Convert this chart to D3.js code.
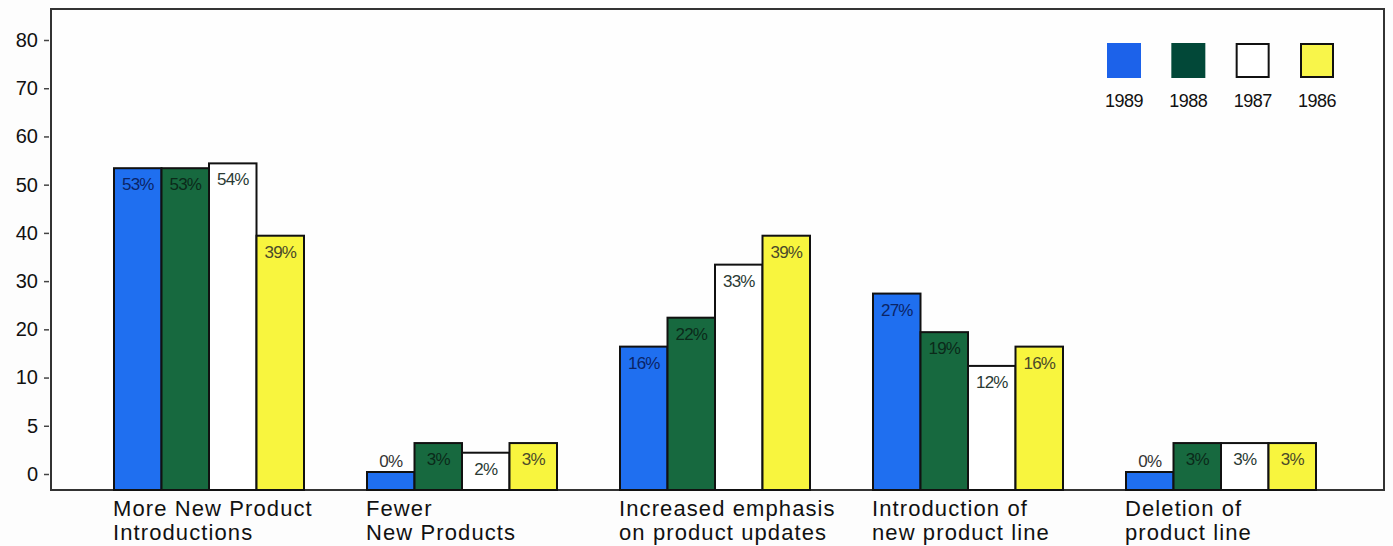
<!DOCTYPE html>
<html>
<head>
<meta charset="utf-8">
<script src="https://cdn.jsdelivr.net/npm/d3@7"></script>
<style>
  html, body { margin: 0; padding: 0; background: #fdfdfd; overflow: hidden; }
  svg { display: block; font-family: "Liberation Sans", Arial, Helvetica, sans-serif; }
</style>
</head>
<body>
<svg id="chart" width="1393" height="546"></svg>
<script>
// Product strategy changes, share of respondents by survey year
const categories = [
  ["More New Product", "Introductions"],
  ["Fewer", "New Products"],
  ["Increased emphasis", "on product updates"],
  ["Introduction of", "new product line"],
  ["Deletion of", "product line"]
];
const years = ["1989", "1988", "1987", "1986"];
const values1989 = [53, 0, 16, 27, 0];
const values1988 = [53, 3, 22, 19, 3];
const values1987 = [54, 2, 33, 12, 3];
const values1986 = [39, 3, 39, 16, 3];
const yTicks = [0, 5, 10, 20, 30, 40, 50, 60, 70, 80];

const seriesValues = [values1989, values1988, values1987, values1986];
const fills = ["#1f6ff0", "#17693f", "#ffffff", "#f8f53e"];
const legendFills = ["#1c62ea", "#024838", "#ffffff", "#f8f54a"];
const labelColors = ["#0b2466", "#0b2a1a", "#2a3a33", "#4a4a2a"];

const svg = d3.select("#chart");
const frame = { left: 51, right: 1384, top: 9, bottom: 490 };

// The value axis is stepped: equal spacing between each labelled tick
const tickTop = 40, tickBottom = 474;
const y = d3.scaleLinear()
  .domain(yTicks)
  .range(yTicks.map((d, i) => tickBottom - i * (tickBottom - tickTop) / (yTicks.length - 1)));

// Category groups and bars within each group
const x0 = d3.scaleLinear().domain([0, categories.length - 1]).range([114, 1126]);
const groupWidth = 190;
const x1 = d3.scaleBand().domain(d3.range(years.length)).range([0, groupWidth]).padding(0);

// Frame
svg.append("rect")
  .attr("x", frame.left).attr("y", frame.top)
  .attr("width", frame.right - frame.left).attr("height", frame.bottom - frame.top)
  .attr("fill", "#fefefe").attr("stroke", "#333").attr("stroke-width", 2);

// Bars
const bars = [];
categories.forEach((c, ci) => {
  years.forEach((yr, si) => {
    bars.push({ ci, si, v: seriesValues[si][ci] });
  });
});

const g = svg.append("g");
g.selectAll("rect.bar").data(bars).join("rect")
  .attr("class", "bar")
  .attr("x", d => x0(d.ci) + x1(d.si))
  .attr("width", x1.bandwidth())
  .attr("y", d => y(d.v) - 2)
  .attr("height", d => frame.bottom - y(d.v) + 2)
  .attr("fill", d => fills[d.si])
  .attr("stroke", "#111")
  .attr("stroke-width", 2);

// Value labels
g.selectAll("text.val").data(bars).join("text")
  .attr("class", "val")
  .attr("x", d => x0(d.ci) + x1(d.si) + x1.bandwidth() / 2)
  .attr("y", d => d.v === 0 ? y(d.v) - 7 : y(d.v) + 20)
  .attr("text-anchor", "middle")
  .attr("font-size", 17)
  .attr("letter-spacing", -0.9)
  .attr("fill", d => d.v === 0 ? "#333" : labelColors[d.si])
  .text(d => d.v + "%");

// Y axis
const yAxis = d3.axisLeft(y).tickValues(yTicks).tickSize(5).tickPadding(6);
const ya = svg.append("g").attr("transform", `translate(${frame.left - 2},0)`).call(yAxis);
ya.select(".domain").remove();
ya.selectAll(".tick line").attr("stroke", "#444").attr("stroke-width", 1.5);
ya.selectAll(".tick text")
  .attr("font-size", 20).attr("fill", "#111")
  .attr("font-family", "Liberation Sans, Arial, sans-serif");

// Category labels
const cat = svg.append("g").selectAll("text").data(categories).join("text")
  .attr("x", (d, i) => x0(i) - 1)
  .attr("y", 516)
  .attr("font-size", 22)
  .attr("letter-spacing", 1.1)
  .attr("fill", "#111");
cat.selectAll("tspan").data(d => d).join("tspan")
  .attr("x", function () { return d3.select(this.parentNode).attr("x"); })
  .attr("dy", (d, i) => i === 0 ? 0 : 24)
  .text(d => d);

// Legend
const legend = svg.append("g");
const lx = d3.scaleLinear().domain([0, years.length - 1]).range([1108, 1301]);
years.forEach((yr, i) => {
  legend.append("rect")
    .attr("x", lx(i)).attr("y", 44).attr("width", 32).attr("height", 33)
    .attr("fill", legendFills[i])
    .attr("stroke", i >= 2 ? "#111" : legendFills[i])
    .attr("stroke-width", 2);
  legend.append("text")
    .attr("x", lx(i) + 16).attr("y", 107)
    .attr("text-anchor", "middle")
    .attr("font-size", 18)
    .attr("letter-spacing", -0.5)
    .attr("fill", "#111")
    .text(yr);
});
</script>
</body>
</html>
